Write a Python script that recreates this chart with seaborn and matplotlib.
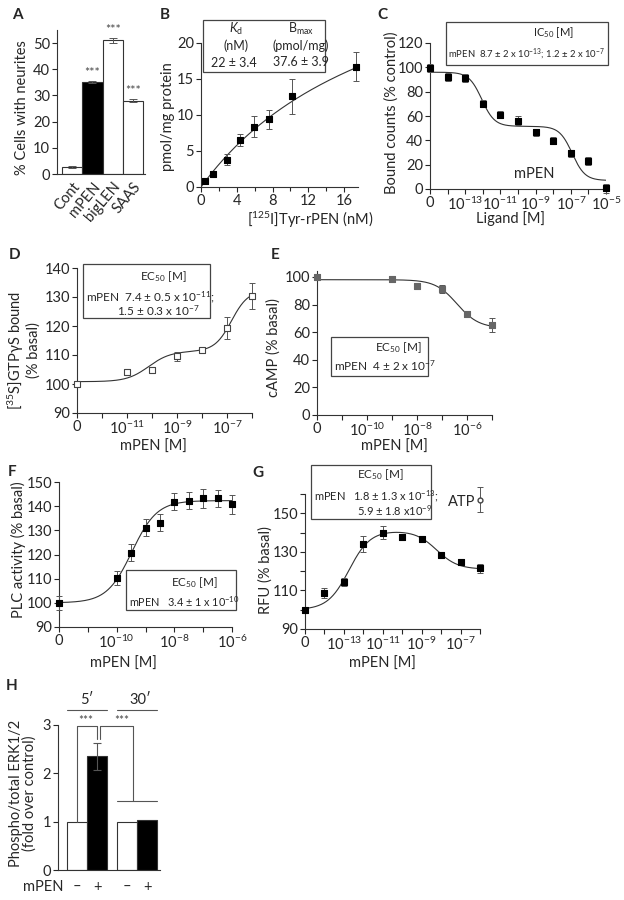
import numpy as np
import pandas as pd
import matplotlib
matplotlib.use("Agg")
import matplotlib.pyplot as plt
from matplotlib.patches import Rectangle
import seaborn as sns

# ---- data ----
# A: neurite outgrowth
a_groups = ["Cont", "mPEN", "bigLEN", "SAAS"]
a_values = [2.6, 35.2, 51.0, 28.0]
a_errors = [0.3, 0.4, 1.0, 0.5]
a_colors = ["white", "black", "white", "white"]

# B: saturation binding
b_conc = [0.45, 1.3, 2.9, 4.4, 5.9, 7.6, 10.2, 17.3]
b_bound = [0.8, 1.85, 3.8, 6.5, 8.4, 9.4, 12.6, 16.7]
b_err = [0.2, 0.2, 0.8, 0.8, 1.4, 1.3, 2.4, 2.0]
b_kd, b_bmax = 22.0, 37.6

# C: displacement (log10 M, -15 stands for "0")
c_logx = [-15, -14, -13, -12, -11, -10, -9, -8, -7, -6, -5]
c_bound = [99.5, 92.0, 91.2, 70.0, 61.0, 56.3, 46.7, 39.8, 29.4, 23.0, 0.5]
c_err = [3, 3, 3, 3, 3, 4, 3, 3, 3, 3.5, 4]
c_fit = [96.0, 7.0, -12.06, -6.92]  # top, bottom, logIC50 1, logIC50 2

# D: GTPgS binding
d_logx = [-13, -11, -10, -9, -8, -7, -6]
d_vals = [100.0, 104.2, 104.8, 109.5, 111.7, 119.2, 130.4]
d_err = [1.0, 0.8, 0.8, 1.5, 0.8, 3.8, 4.5]
d_fit = [100.8, 10.5, -10.13, 21.0, -6.82]

# E: cAMP
e_logx = [-12, -9, -8, -7, -6, -5]
e_vals = [100.0, 98.5, 93.7, 91.5, 73.1, 64.9]
e_err = [1.5, 2.0, 1.0, 3.0, 2.0, 5.0]
e_fit = [98.0, 63.0, -6.4]

# F: PLC activity
f_logx = [-12, -10, -9.5, -9, -8.5, -8, -7.5, -7, -6.5, -6]
f_vals = [100.0, 110.3, 120.7, 131.0, 133.1, 141.8, 142.2, 143.2, 143.2, 140.7]
f_err = [3.0, 3.0, 3.5, 3.5, 3.5, 3.5, 3.5, 4.0, 3.5, 4.0]
f_fit = [100.0, 42.3, -9.47]

# G: calcium (RFU)
g_logx = [-15, -14, -13, -12, -11, -10, -9, -8, -7, -6]
g_vals = [100.0, 108.6, 114.3, 134.0, 140.0, 137.9, 136.9, 128.3, 124.7, 121.4]
g_err = [1.0, 2.5, 2.0, 4.0, 3.5, 1.5, 1.5, 1.0, 1.0, 2.5]
g_fit = [100.0, 41.0, -12.74, 20.0, -8.23]
atp_val, atp_err = 157.0, 6.5

# H: ERK phosphorylation
h_time = ["5\u2032", "5\u2032", "30\u2032", "30\u2032"]
h_mpen = ["\u2013", "+", "\u2013", "+"]
h_vals = [1.0, 2.35, 1.0, 1.03]
h_err = [0.0, 0.28, 0.0, 0.0]

# ---- style ----
sns.set_style("ticks")
plt.rcParams["font.family"] = ["Lato", "DejaVu Sans"]
plt.rcParams["mathtext.fontset"] = "custom"
plt.rcParams["mathtext.rm"] = "Lato"
plt.rcParams["mathtext.it"] = "Lato:italic"
plt.rcParams["mathtext.bf"] = "Lato:bold"
plt.rcParams["axes.linewidth"] = 0.8
plt.rcParams["axes.edgecolor"] = "#333333"
plt.rcParams["xtick.major.size"] = 3.5
plt.rcParams["ytick.major.size"] = 3.5
plt.rcParams["xtick.major.width"] = 0.8
plt.rcParams["ytick.major.width"] = 0.8
plt.rcParams["xtick.labelsize"] = 10.5
plt.rcParams["ytick.labelsize"] = 10.5
plt.rcParams["axes.labelsize"] = 10.5
plt.rcParams["xtick.major.pad"] = 1.5
plt.rcParams["ytick.major.pad"] = 1.5

W, H = 624, 900
fig = plt.figure(figsize=(W / 100, H / 100), dpi=100)


def axes_px(left, top, right, bottom):
    ax = fig.add_axes([left / W, 1 - bottom / H, (right - left) / W, (bottom - top) / H])
    sns.despine(ax=ax)
    ax.px = (left, top, right, bottom)
    return ax


def text_px(x, y, s, size=8, ha="left", va="center", **kw):
    fig.text(x / W, 1 - y / H, s, fontsize=size, ha=ha, va=va, **kw)


def box_px(left, top, right, bottom):
    fig.patches.append(Rectangle((left / W, 1 - bottom / H), (right - left) / W,
                                 (bottom - top) / H, transform=fig.transFigure,
                                 fill=False, lw=0.9, ec="#444444"))


def place_labels(ax, xlab_xy=None, ylab_xy=None):
    # put axis label centres at given pixel positions
    left, top, right, bottom = ax.px
    if xlab_xy is not None:
        ax.xaxis.label.set_va("center")
        ax.xaxis.set_label_coords((xlab_xy[0] - left) / (right - left),
                                  (bottom - xlab_xy[1]) / (bottom - top))
    if ylab_xy is not None:
        ax.yaxis.label.set_va("center")
        ax.yaxis.set_label_coords((ylab_xy[0] - left) / (right - left),
                                  (bottom - ylab_xy[1]) / (bottom - top))


def sig(x, logec, hill=1.0):
    return 1.0 / (1.0 + 10 ** (hill * (logec - x)))


def points(ax, x, y, err, face="black", edge="black"):
    ax.errorbar(x, y, yerr=err, fmt="none", ecolor="#555555", elinewidth=0.7,
                capsize=2, capthick=0.7, zorder=3, clip_on=False)
    sns.scatterplot(x=x, y=y, ax=ax, marker="s", s=16, color=face,
                    edgecolor=edge, linewidth=0.8, zorder=4, clip_on=False)


def log_ticks(ax, lo, hi, labelled, zero):
    pos = list(range(lo, hi + 1))
    labs = []
    for p in pos:
        if p == zero:
            labs.append("0")
        elif p in labelled:
            labs.append("$10^{%d}$" % p)
        else:
            labs.append("")
    ax.set_xticks(pos, labels=labs)
    ax.set_xlim(lo, hi)


# ---- A ----
axA = axes_px(57, 30, 145, 174)
sns.barplot(x=a_groups, y=a_values, hue=a_groups, palette=a_colors, width=1.0,
            edgecolor="#333333", linewidth=0.8, legend=False, ax=axA, zorder=2)
axA.errorbar(range(4), a_values, yerr=a_errors, fmt="none", ecolor="#555555",
             elinewidth=0.7, capsize=3, capthick=0.7, zorder=3)
for i in range(1, 4):
    axA.text(i, a_values[i] + a_errors[i] + 0.8, "***", ha="center", va="bottom",
             fontsize=9, color="#444444")
axA.set_xlim(-0.75, 3.6)
axA.set_ylim(0, 55)
axA.set_yticks(range(0, 51, 10))
axA.tick_params(axis="x", length=0, pad=4)
plt.setp(axA.get_xticklabels(), rotation=50, ha="right", rotation_mode="anchor")
axA.set_ylabel("% Cells with neurites")
place_labels(axA, ylab_xy=(22, 108))

# ---- B ----
axB = axes_px(201, 43, 358, 187)
xs = np.linspace(0, 17.5, 200)
sns.lineplot(x=xs, y=b_bmax * xs / (b_kd + xs), ax=axB, color="#333333", lw=0.8)
points(axB, b_conc, b_bound, b_err)
axB.set_xlim(0, 17.56)
axB.set_ylim(0, 20)
axB.set_xticks([0, 4, 8, 12, 16])
axB.set_xticks(np.arange(2, 18, 4), minor=True)
axB.tick_params(axis="x", which="minor", length=3, width=0.8)
axB.set_yticks([0, 5, 10, 15, 20])
axB.set_ylabel("pmol/mg protein")
axB.set_xlabel("[$^{125}$I]Tyr-rPEN (nM)")
place_labels(axB, xlab_xy=(310, 220), ylab_xy=(168, 117))
box_px(203, 20, 325, 72)
text_px(236, 29, "$\\mathit{K}_{\\mathrm{d}}$", size=9, ha="center")
text_px(301, 29, "B$_{\\mathrm{max}}$", size=9, ha="center")
text_px(236, 46, "(nM)", size=9, ha="center")
text_px(301, 46, "(pmol/mg)", size=9, ha="center")
text_px(234, 63, "22 \u00b1 3.4", size=9, ha="center")
text_px(301, 62, "37.6 \u00b1 3.9", size=9, ha="center")

# ---- C ----
axC = axes_px(430, 43, 606, 189)
xs = np.linspace(-15, -5, 300)
top, bot, l1, l2 = c_fit
c_curve = bot + (top - bot) * (0.5 * (1 - sig(xs, l1, 1.2)) + 0.5 * (1 - sig(xs, l2, 1.2)))
sns.lineplot(x=xs, y=c_curve, ax=axC, color="#333333", lw=0.8)
points(axC, c_logx, c_bound, c_err)
log_ticks(axC, -15, -5, [-13, -11, -9, -7, -5], -15)
axC.set_ylim(0, 120)
axC.set_yticks(range(0, 121, 20))
axC.set_ylabel("Bound counts (% control)")
axC.set_xlabel("Ligand [M]")
place_labels(axC, xlab_xy=(511, 219), ylab_xy=(392, 113))
axC.text(-9.1, 12, "mPEN", fontsize=10.5, ha="center", va="center")
box_px(446, 22, 608, 65)
text_px(553, 33, "IC$_{50}$ [M]", size=8, ha="center")
text_px(448, 54, "mPEN  8.7 \u00b1 2 x 10$^{-13}$; 1.2 \u00b1 2 x 10$^{-7}$", size=6.8)

# ---- D ----
axD = axes_px(77, 268, 252, 413)
xs = np.linspace(-13, -6, 300)
b0, a1, l1, a2, l2 = d_fit
sns.lineplot(x=xs, y=b0 + a1 * sig(xs, l1) + a2 * sig(xs, l2, 1.3), ax=axD,
             color="#333333", lw=0.8)
points(axD, d_logx, d_vals, d_err, face="white", edge="#444444")
log_ticks(axD, -13, -6, [-11, -9, -7], -13)
axD.set_ylim(90, 140)
axD.set_yticks(range(90, 141, 10))
axD.set_ylabel("[$^{35}$S]GTP\u03b3S bound\n(% basal)", linespacing=1.0)
axD.set_xlabel("mPEN [M]")
place_labels(axD, xlab_xy=(153, 447), ylab_xy=(23, 350))
box_px(83, 264, 210, 318)
text_px(163, 277, "EC$_{50}$ [M]", size=8.5, ha="center")
text_px(86, 297, "mPEN  7.4 \u00b1 0.5 x 10$^{-11}$;", size=8.5)
text_px(117, 311, "1.5 \u00b1 0.3 x 10$^{-7}$", size=8.5)

# ---- E ----
axE = axes_px(317, 271, 492, 415)
xs = np.linspace(-12, -5, 300)
top, bot, l1 = e_fit
sns.lineplot(x=xs, y=bot + (top - bot) * (1 - sig(xs, l1)), ax=axE,
             color="#333333", lw=0.8)
points(axE, e_logx, e_vals, e_err, face="#666666", edge="#666666")
log_ticks(axE, -12, -5, [-10, -8, -6], -12)
axE.set_ylim(0, 104.3)
axE.set_yticks(range(0, 101, 20))
axE.set_ylabel("cAMP (% basal)")
axE.set_xlabel("mPEN [M]")
place_labels(axE, xlab_xy=(394, 447), ylab_xy=(274, 348))
box_px(331, 337, 428, 376)
text_px(422, 348, "EC$_{50}$ [M]", size=8.5, ha="right")
text_px(334, 366, "mPEN  4 \u00b1 2 x 10$^{-7}$", size=8.5)

# ---- F ----
axF = axes_px(59, 482, 232, 627)
xs = np.linspace(-12, -6, 300)
b0, a1, l1 = f_fit
sns.lineplot(x=xs, y=b0 + a1 * sig(xs, l1), ax=axF, color="#333333", lw=0.8)
points(axF, f_logx, f_vals, f_err)
log_ticks(axF, -12, -6, [-10, -8, -6], -12)
axF.set_ylim(90, 150)
axF.set_yticks(range(90, 151, 10))
axF.set_ylabel("PLC activity (% basal)")
axF.set_xlabel("mPEN [M]")
place_labels(axF, xlab_xy=(123, 664), ylab_xy=(18, 550))
box_px(126, 570, 236, 610)
text_px(218, 583, "EC$_{50}$ [M]", size=8.5, ha="right")
text_px(129, 602, "mPEN   3.4 \u00b1 1 x 10$^{-10}$", size=7.8)

# ---- G ----
axG = axes_px(305, 494, 480, 629)
xs = np.linspace(-15, -6, 300)
b0, a1, l1, a2, l2 = g_fit
sns.lineplot(x=xs, y=b0 + a1 * sig(xs, l1, 0.8) - a2 * sig(xs, l2, 0.8), ax=axG,
             color="#333333", lw=0.8)
points(axG, g_logx, g_vals, g_err)
axG.errorbar([-6], [atp_val], yerr=[atp_err], fmt="o", mfc="white", mec="#444444",
             ms=3.5, ecolor="#555555", elinewidth=0.7, capsize=2, capthick=0.7,
             clip_on=False, zorder=4)
log_ticks(axG, -15, -6, [-13, -11, -9, -7], -15)
axG.set_ylim(90, 160)
axG.set_yticks(range(90, 161, 10), labels=["90", "", "110", "", "130", "", "150", ""])
axG.set_ylabel("RFU (% basal)")
axG.set_xlabel("mPEN [M]")
place_labels(axG, xlab_xy=(382, 664), ylab_xy=(266, 570))
text_px(462, 502, "ATP", size=10.5, ha="center")
box_px(311, 465, 431, 519)
text_px(380, 475, "EC$_{50}$ [M]", size=8.5, ha="center")
text_px(314, 496, "mPEN   1.8 \u00b1 1.3 x 10$^{-13}$;", size=8)
text_px(357, 511, "5.9 \u00b1 1.8 x10$^{-9}$", size=8)

# ---- H ----
axH = axes_px(58, 725, 160, 870)
h_df = pd.DataFrame({"time": h_time, "mpen": h_mpen, "val": h_vals})
sns.barplot(data=h_df, x="time", y="val", hue="mpen", hue_order=["\u2013", "+"],
            palette={"\u2013": "white", "+": "black"}, width=0.8,
            edgecolor="#333333", linewidth=0.8, legend=False, ax=axH)
h_pos = [-0.2, 0.2, 0.8, 1.2]
axH.errorbar(h_pos[1:2], h_vals[1:2], yerr=h_err[1:2], fmt="none", ecolor="#555555",
             elinewidth=0.8, capsize=3, capthick=0.8)
axH.set_xlim(-0.58, 1.46)
axH.set_ylim(0, 3)
axH.set_yticks([0, 1, 2, 3])
axH.set_xticks([])
axH.set_xlabel("")
axH.set_ylabel("Phospho/total ERK1/2\n(fold over control)", linespacing=1.0)
place_labels(axH, ylab_xy=(23, 793))
lk = dict(color="#555555", lw=0.8, clip_on=False)
axH.plot([-0.2, -0.2, 0.2, 0.2], [1.0, 2.97, 2.97, 2.72], **lk)
axH.plot([0.26, 0.26, 0.92, 0.92], [2.72, 2.97, 2.97, 1.43], **lk)
axH.plot([0.6, 1.4], [1.43, 1.43], **lk)
axH.plot([-0.4, 0.4], [3.31, 3.31], **lk)
axH.plot([0.6, 1.4], [3.31, 3.31], **lk)
axH.text(-0.02, 2.98, "***", ha="center", va="bottom", fontsize=8.5, color="#444444")
axH.text(0.7, 2.98, "***", ha="center", va="bottom", fontsize=8.5, color="#444444")
axH.text(0.0, 3.52, "5\u2032", ha="center", va="center", fontsize=10.5)
axH.text(1.06, 3.52, "30\u2032", ha="center", va="center", fontsize=10.5)
for p, s in zip(h_pos, h_mpen):
    axH.text(p, -0.35, s, ha="center", va="center", fontsize=10.5, clip_on=False)
axH.text(-0.48, -0.35, "mPEN", ha="right", va="center", fontsize=10.5)

# ---- panel letters ----
for lab, x, y in [("A", 17, 15), ("B", 165, 15), ("C", 382, 15), ("D", 15, 255),
                  ("E", 275, 255), ("F", 12, 472), ("G", 258, 473), ("H", 12, 686)]:
    text_px(x, y, lab, size=11, ha="center", weight="bold")

fig.savefig("out.png", dpi=100)
